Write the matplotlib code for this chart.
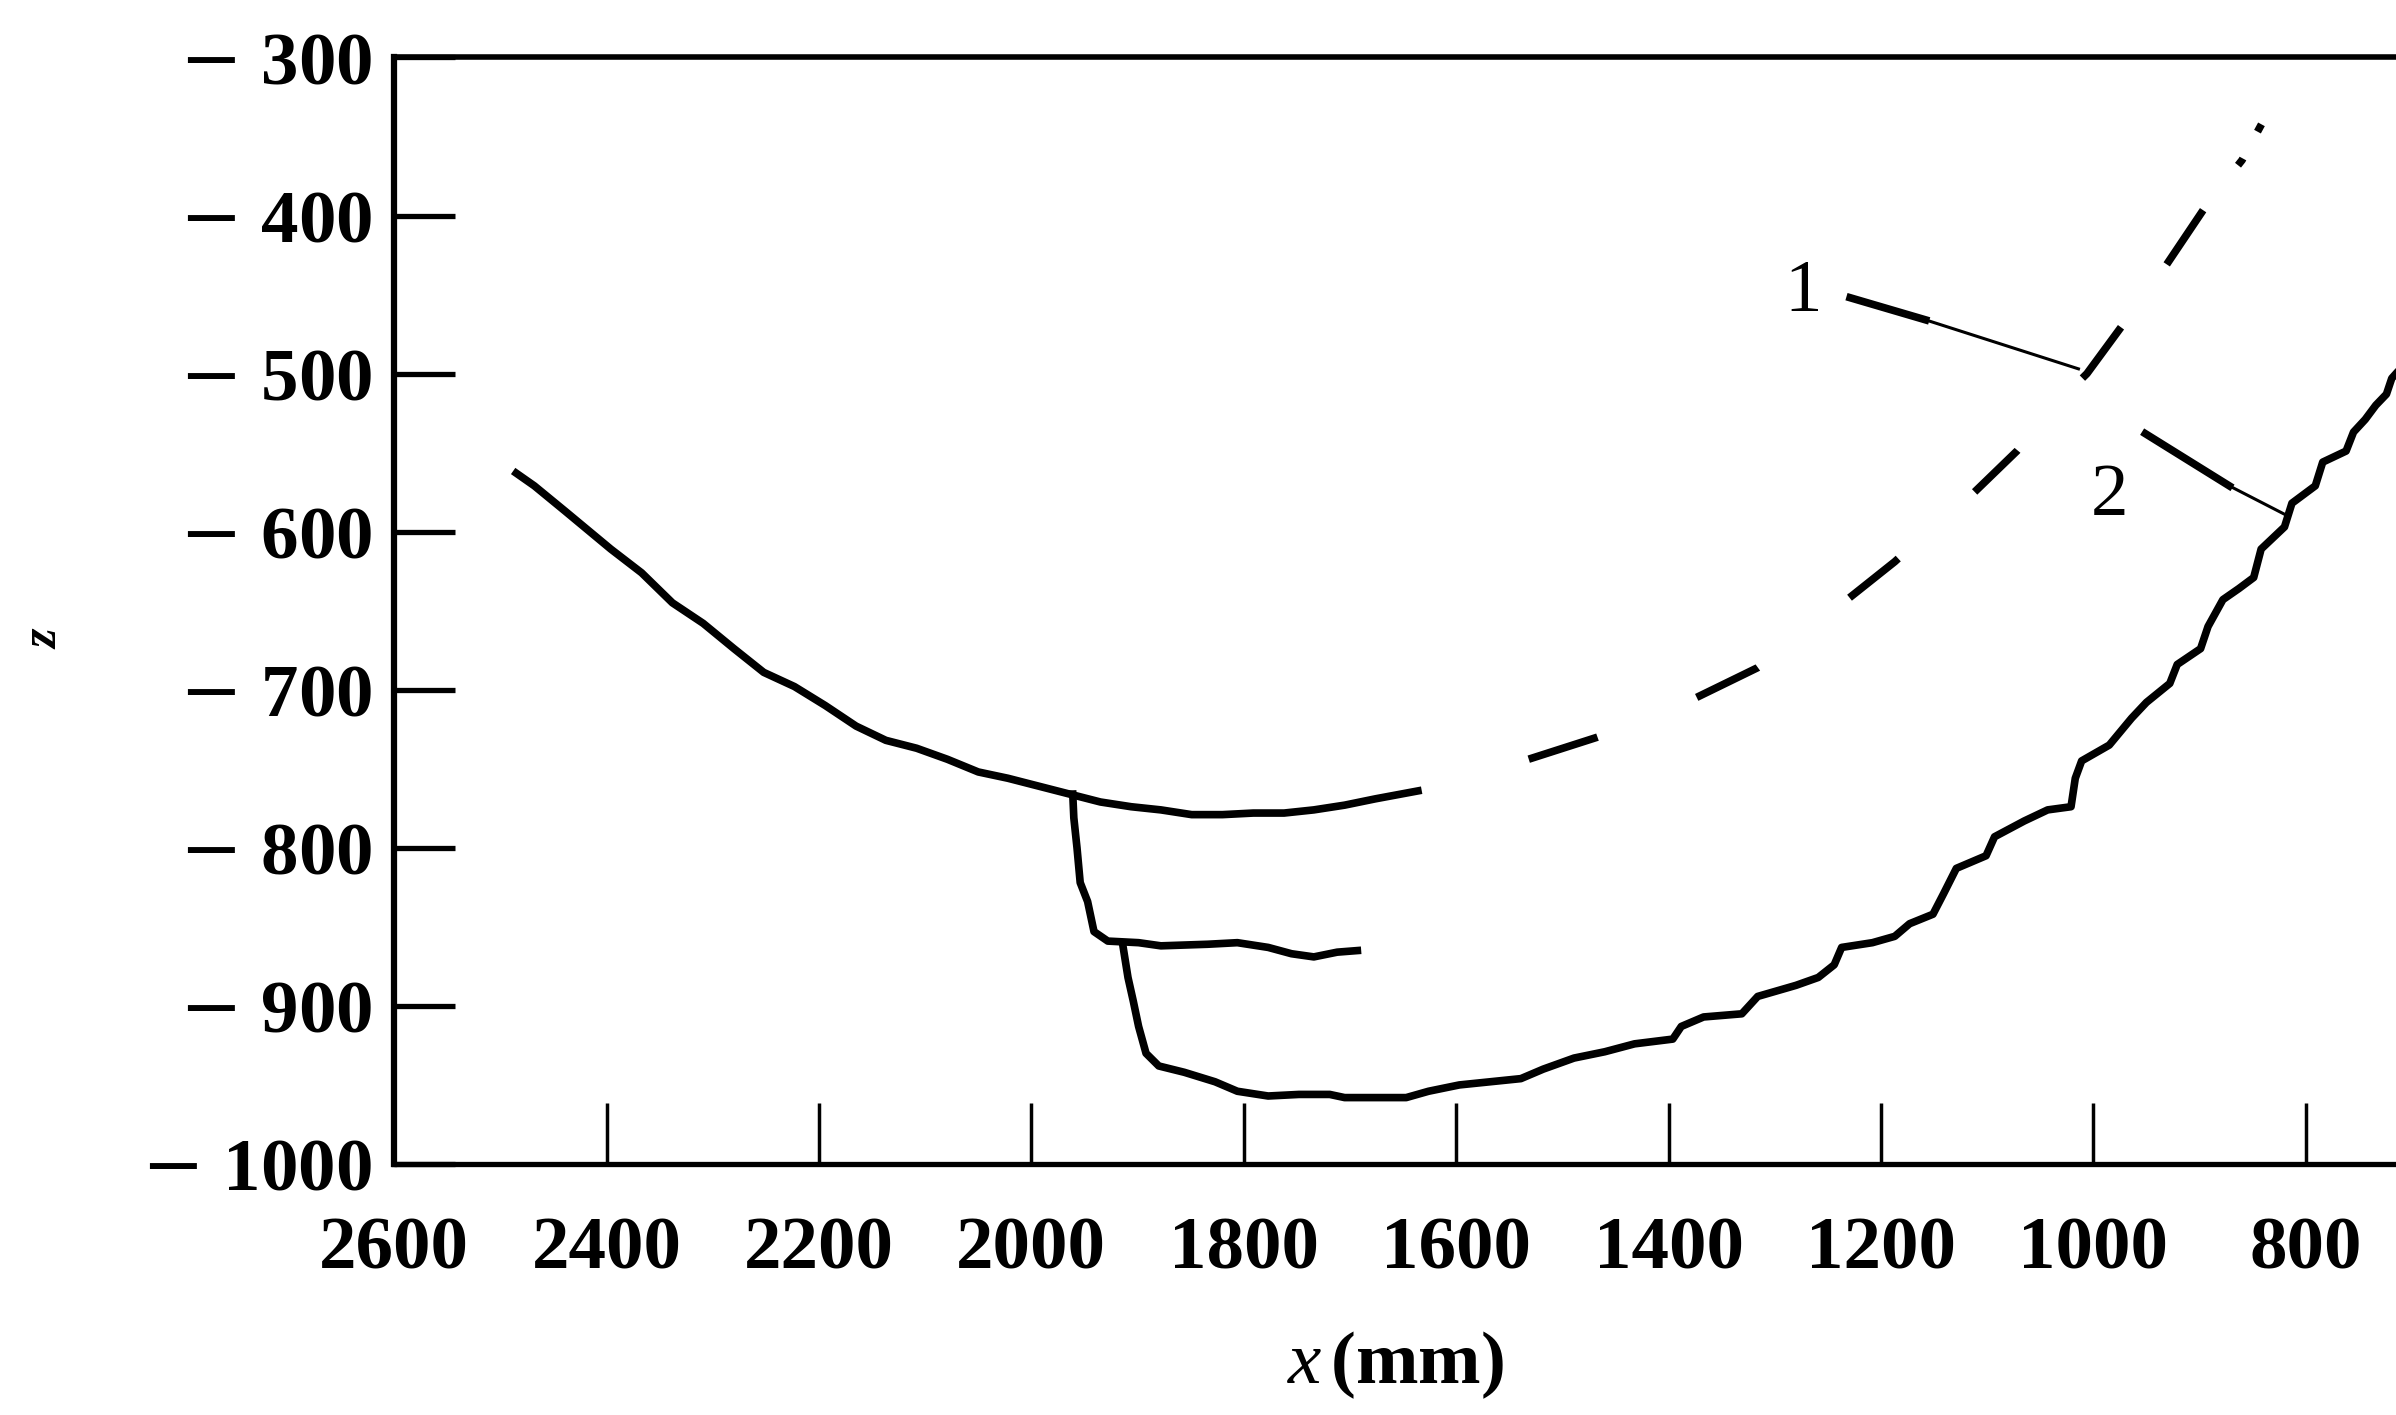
import matplotlib
matplotlib.use('Agg')
import matplotlib.pyplot as plt

plt.rcParams['font.family'] = ['Liberation Serif', 'DejaVu Serif']
plt.rcParams['mathtext.fontset'] = 'custom'
plt.rcParams['mathtext.it'] = 'Liberation Serif:italic'
plt.rcParams['mathtext.rm'] = 'DejaVu Serif'

# 曲线数据 (x mm, z)
upper_x = [2485, 2468, 2439, 2396, 2367, 2338, 2309, 2280, 2252, 2223, 2194, 2165,
           2137, 2108, 2079, 2050, 2022, 1993, 1964, 1935, 1906, 1878, 1849, 1820,
           1791, 1762, 1734, 1705, 1676, 1636]
upper_z = [-563, -571, -587, -611, -626, -645, -658, -674, -689, -698, -710, -723,
           -732, -737, -744, -752, -756, -761, -766, -771, -774, -776, -779, -779,
           -778, -778, -776, -773, -769, -764]

# 虚线延长部分
dash_x = [1636, 1532, 1467, 1417, 1374, 1316, 1273, 1230, 1187, 1151, 1112, 1072,
          1036, 1006, 971, 942, 921, 892, 860, 839]
dash_z = [-764, -744, -730, -718, -705, -686, -665, -642, -619, -597, -575, -549,
          -520, -500, -468, -442, -421, -392, -365, -339]

mid_x = [1961, 1960, 1957, 1954, 1947, 1941, 1928, 1899, 1878, 1834, 1806, 1777,
         1755, 1734, 1712, 1693]
mid_z = [-766, -781, -800, -822, -834, -853, -859, -860, -862, -861, -860, -863,
         -867, -869, -866, -865]

low_x = [1914, 1909, 1904, 1899, 1892, 1880, 1856, 1827, 1806, 1777, 1748, 1719,
         1705, 1676, 1647, 1626, 1597, 1568, 1539, 1518, 1489, 1460, 1432, 1396,
         1388, 1367, 1331, 1316, 1280, 1259, 1244, 1237, 1208, 1187, 1173, 1151,
         1141, 1129, 1101, 1093, 1065, 1043, 1021, 1017, 1011, 985, 964, 950,
         928, 921, 899, 892, 878, 863, 849, 842, 820, 813, 791, 784, 762, 755,
         744, 734, 724, 719, 715]
low_z = [-861, -882, -897, -913, -930, -938, -942, -948, -954, -957, -956, -956,
         -958, -958, -958, -954, -950, -948, -946, -940, -933, -929, -924, -921,
         -913, -907, -905, -894, -887, -882, -874, -863, -860, -856, -848, -842,
         -829, -813, -805, -793, -783, -776, -774, -756, -745, -735, -718, -708,
         -696, -684, -674, -660, -643, -636, -629, -611, -597, -582, -571, -556,
         -549, -537, -529, -520, -513, -503, -500]

# 标注
labels = ['1', '2']
label_x = [1273, 985]
label_z = [-449, -578]
leader1_x = [1229, 1158, 1014]
leader1_z = [-452, -466, -497]
leader2_x = [951, 872, 817]
leader2_z = [-538, -571, -590]

xticks = [2600, 2400, 2200, 2000, 1800, 1600, 1400, 1200, 1000, 800]
yticks = [-300, -400, -500, -600, -700, -800, -900, -1000]

fig = plt.figure(figsize=(23.96, 14.15), dpi=100)
ax = fig.add_axes([0.1645, 0.1774, 0.8355, 0.782])

lw = 5.5
# 虚线段长度不等 (on/off, 单位: 点), 最后一个间隔即起始间隔
dash_pts = [52, 77, 49, 83, 45, 73, 43, 70, 46, 56, 47, 41, 6, 22, 6, 83]
dash_seq = [d / lw for d in dash_pts]
dash_off = sum(dash_seq) - dash_seq[-1]

ax.plot(upper_x, upper_z, color='black', lw=lw, solid_joinstyle='round')
ax.plot(dash_x, dash_z, color='black', lw=lw, linestyle=(dash_off, dash_seq))
ax.plot(mid_x, mid_z, color='black', lw=lw, solid_joinstyle='round')
ax.plot(low_x, low_z, color='black', lw=lw, solid_joinstyle='round')

# 引线 (细线 + 加粗一段)
ax.plot(leader1_x, leader1_z, color='black', lw=2.2)
ax.plot(leader1_x[:2], leader1_z[:2], color='black', lw=5.5)
ax.plot(leader2_x, leader2_z, color='black', lw=2.2)
ax.plot(leader2_x[:2], leader2_z[:2], color='black', lw=5.5)
for t, lx, lz in zip(labels, label_x, label_z):
    ax.text(lx, lz, t, fontsize=54, ha='center', va='center')

ax.set_xlim(2600, 715)
ax.set_ylim(-1000, -300)
ax.set_xticks(xticks)
ax.set_xticklabels([str(v) for v in xticks])
ax.set_yticks(yticks)
ax.set_yticklabels(['$-$ ' + str(abs(v)) for v in yticks])

for lab in ax.get_xticklabels() + ax.get_yticklabels():
    lab.set_fontsize(54)
    lab.set_fontweight('bold')

ax.tick_params(axis='x', direction='in', length=44, width=2.5, pad=38)
ax.tick_params(axis='y', direction='in', length=44, width=3.8, pad=16)
ax.spines['right'].set_visible(False)
ax.spines['left'].set_linewidth(4.5)
ax.spines['top'].set_linewidth(4.0)
ax.spines['bottom'].set_linewidth(3.8)

ax.set_xlabel('$x\\,$(mm)', fontsize=54, fontweight='bold', labelpad=32)
fig.text(0.0188, 0.548, 'z', fontsize=36, fontweight='bold', style='italic',
         rotation=90, ha='center', va='center')

plt.savefig('out.png', dpi=100)
plt.close()
